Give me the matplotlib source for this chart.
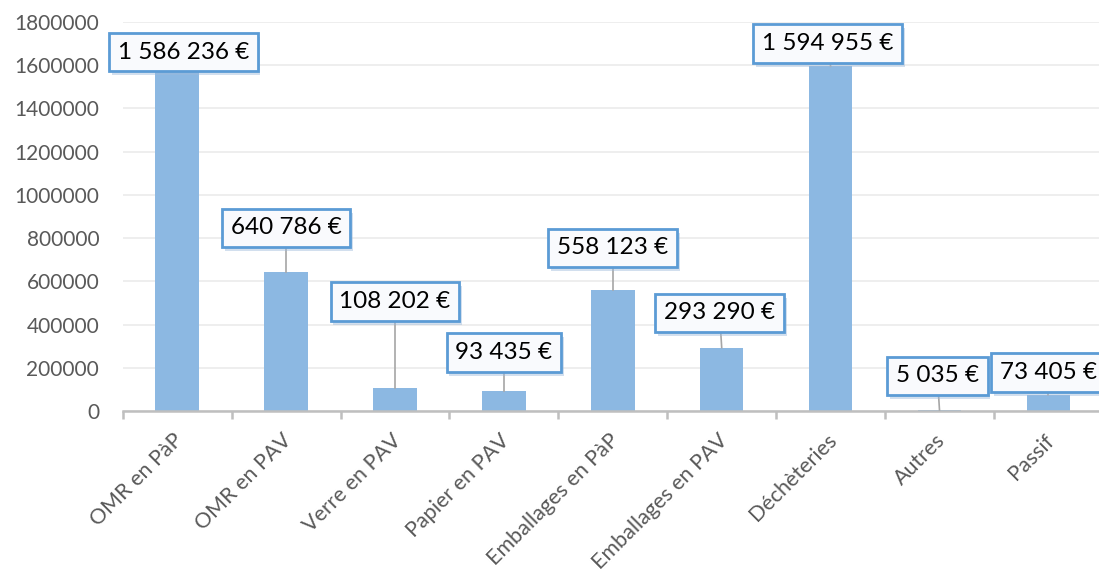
import numpy as np
import matplotlib
matplotlib.use("Agg")
import matplotlib.pyplot as plt
import matplotlib.patheffects as pe
import matplotlib.transforms as mtrans
from matplotlib.ticker import FixedLocator

plt.rcParams['font.family'] = ['Lato', 'DejaVu Sans']

categories = ['OMR en PàP', 'OMR en PAV', 'Verre en PAV', 'Papier en PAV',
              'Emballages en PàP', 'Emballages en PAV', 'Déchèteries', 'Autres', 'Passif']
values = [1586236, 640786, 108202, 93435, 558123, 293290, 1594955, 5035, 73405]
labels = ['1 586 236 €', '640 786 €', '108 202 €', '93 435 €', '558 123 €',
          '293 290 €', '1 594 955 €', '5 035 €', '73 405 €']

# where the label boxes sit (x offset from bar, y in data units)
label_dx = [0.055, 0.0, 0.0, 0.0, 0.0, -0.02, -0.03, -0.02, 0.0]
label_y = [1661000, 846800, 506700, 270700, 754200, 453500, 1700500, 162000, 178100]

fig = plt.figure(figsize=(10.99, 5.69), dpi=100)
ax = fig.add_axes([0.1117, 0.2777, 0.8918, 0.6837])

x = np.arange(len(categories))
ax.bar(x, values, width=0.4, color='#8CB8E2', zorder=2)

ax.set_xlim(-0.5, len(categories) - 0.5)
ax.set_ylim(0, 1800000)
ax.set_yticks(np.arange(0, 1800001, 200000))
ax.set_yticklabels([str(v) for v in range(0, 1800001, 200000)])
ax.grid(axis='y', color='#EBEBEB', lw=1.2, zorder=0)

for s in ['top', 'right', 'left']:
    ax.spines[s].set_visible(False)
ax.spines['bottom'].set_color('#BFBFBF')
ax.spines['bottom'].set_linewidth(1.8)

ax.tick_params(axis='y', length=0, pad=17, labelsize=15, labelcolor='#595959')
ax.set_xticks(x)
ax.set_xticklabels(categories, rotation=45, ha='right', va='baseline',
                   rotation_mode='anchor', fontsize=15.5, color='#595959')
ax.tick_params(axis='x', which='major', length=0, pad=22)
shift = mtrans.ScaledTranslation(0.07, 0, fig.dpi_scale_trans)
for tl in ax.get_xticklabels():
    tl.set_transform(tl.get_transform() + shift)
ax.xaxis.set_minor_locator(FixedLocator(np.arange(-0.5, len(categories), 1.0)))
ax.tick_params(axis='x', which='minor', length=6, width=1.8, color='#BFBFBF')

for i, (v, lab) in enumerate(zip(values, labels)):
    lx = i + label_dx[i]
    ly = label_y[i]
    ax.plot([lx, i], [ly, v], color='#A6A6A6', lw=1.2, zorder=3, clip_on=False)
    t = ax.text(lx, ly, lab, ha='center', va='center', fontsize=17.5, color='#000000',
                zorder=5, clip_on=False,
                bbox=dict(boxstyle='square,pad=0.36', fc='#F9FAFD', ec='#5B9BD5', lw=2))
    t.get_bbox_patch().set_path_effects([
        pe.SimplePatchShadow(offset=(2, -3), shadow_rgbFace='#9DB9DA', alpha=0.45),
        pe.Normal()])

fig.savefig('out.png', dpi=100)
